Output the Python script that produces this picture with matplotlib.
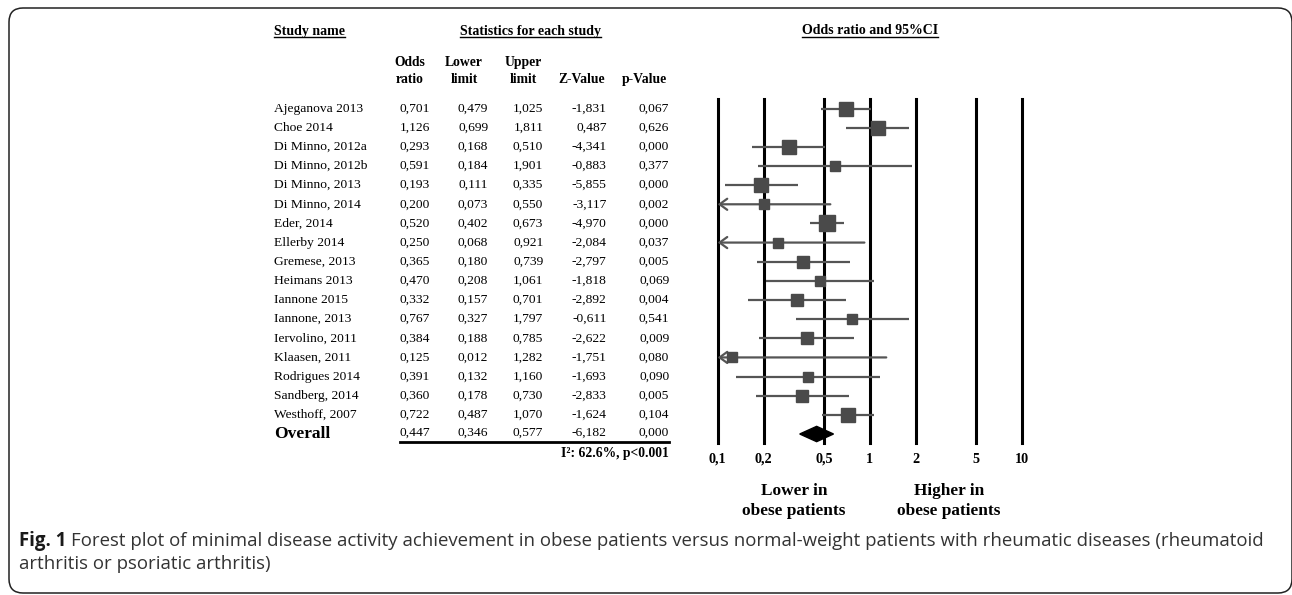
import numpy as np
import matplotlib
matplotlib.use("Agg")
import matplotlib.pyplot as plt
import matplotlib.transforms as mtransforms
from matplotlib.lines import Line2D
from matplotlib.patches import FancyBboxPatch

W, H = 1292, 595

studies = ["Ajeganova 2013", "Choe 2014", "Di Minno, 2012a", "Di Minno, 2012b",
           "Di Minno, 2013", "Di Minno, 2014", "Eder, 2014", "Ellerby 2014",
           "Gremese, 2013", "Heimans 2013", "Iannone 2015", "Iannone, 2013",
           "Iervolino, 2011", "Klaasen, 2011", "Rodrigues 2014", "Sandberg, 2014",
           "Westhoff, 2007"]
odds = [0.701, 1.126, 0.293, 0.591, 0.193, 0.200, 0.520, 0.250, 0.365, 0.470,
        0.332, 0.767, 0.384, 0.125, 0.391, 0.360, 0.722]
lower = [0.479, 0.699, 0.168, 0.184, 0.111, 0.073, 0.402, 0.068, 0.180, 0.208,
         0.157, 0.327, 0.188, 0.012, 0.132, 0.178, 0.487]
upper = [1.025, 1.811, 0.510, 1.901, 0.335, 0.550, 0.673, 0.921, 0.739, 1.061,
         0.701, 1.797, 0.785, 1.282, 1.160, 0.730, 1.070]
z_value = [-1.831, 0.487, -4.341, -0.883, -5.855, -3.117, -4.970, -2.084, -2.797,
           -1.818, -2.892, -0.611, -2.622, -1.751, -1.693, -2.833, -1.624]
p_value = [0.067, 0.626, 0.000, 0.377, 0.000, 0.002, 0.000, 0.037, 0.005, 0.069,
           0.004, 0.541, 0.009, 0.080, 0.090, 0.005, 0.104]
# relative study weights (%)
weights = [8.3, 8.3, 6.9, 3.8, 7.2, 4.1, 9.5, 3.5, 5.9, 4.6, 5.6, 4.6, 5.2, 3.8,
           4.1, 5.6, 8.8]
overall = [0.447, 0.346, 0.577, -6.182, 0.000]
heterogeneity = "I²: 62.6%, p<0.001"
xticks = [0.1, 0.2, 0.5, 1, 2, 5, 10]
xticklabels = ["0,1", "0,2", "0,5", "1", "2", "5", "10"]


def fmt(v):
    return f"{v:.3f}".replace(".", ",")


def fx(px):
    return px / W


def fy(py):
    return 1 - py / H


SERIF = "Liberation Serif"
plt.rcParams["font.family"] = SERIF

fig = plt.figure(figsize=(W / 100, H / 100), dpi=100)

# forest plot axes
ax = fig.add_axes([fx(717.7), fy(443), (1022 - 717.7) / W, (443 - 99) / H])
ax.set_xscale("log")
ax.set_xlim(0.1, 10)
n = len(studies)
ax.set_ylim(n + 0.47, -0.5)
for s in ax.spines.values():
    s.set_visible(False)
ax.set_yticks([])
ax.minorticks_off()
ax.set_xticks(xticks)
ax.set_xticklabels(xticklabels, fontweight="bold", fontsize=10.2)
ax.tick_params(axis="x", length=0, pad=7)
ax.patch.set_alpha(0)

for xv in xticks:
    ax.axvline(xv, color="black", lw=2.2, clip_on=False, zorder=1)

rows = np.arange(n)
for i in range(n):
    if lower[i] < 0.1:
        ax.annotate("", xy=(0.1, rows[i]), xytext=(upper[i], rows[i]),
                    arrowprops=dict(arrowstyle="->,head_length=0.55,head_width=0.4",
                                    color="#555555", lw=1.6, shrinkA=0, shrinkB=0),
                    annotation_clip=False, zorder=2)
    else:
        ax.plot([lower[i], upper[i]], [rows[i], rows[i]], color="#555555", lw=1.6,
                solid_capstyle="butt", zorder=2)
    ax.plot(odds[i], rows[i], marker="s", ms=3.57 * np.sqrt(weights[i]),
            color="#4a4a4a", mec="#4a4a4a", zorder=3)

# overall diamond
ov, lo, hi = overall[0], overall[1], overall[2]
h = 0.4
ax.fill([lo, ov, hi, ov], [n, n - h, n, n + h], color="black", zorder=4)

# table text
trans = mtransforms.blended_transform_factory(fig.transFigure, ax.transData)
col_right = [430, 488.3, 543.3, 606.7, 669.3]
columns = [odds, lower, upper, z_value, p_value]
for i in range(n):
    fig.text(fx(274), rows[i], studies[i], transform=trans, fontsize=9.7,
             va="center", ha="left")
    for c, vals in enumerate(columns):
        fig.text(fx(col_right[c]), rows[i], fmt(vals[i]), transform=trans,
                 fontsize=9.7, va="center", ha="right")

fig.text(fx(274), n, "Overall", transform=trans, fontsize=12.5, fontweight="bold",
         va="center", ha="left")
for c, v in enumerate(overall):
    fig.text(fx(col_right[c]), n - 0.05, fmt(v), transform=trans, fontsize=9.7,
             va="center", ha="right")
fig.add_artist(Line2D([fx(400), fx(669.3)], [fy(441.5), fy(441.5)], color="black",
                      lw=2.0, transform=fig.transFigure))
fig.text(fx(669.3), fy(453), heterogeneity, fontsize=9.8, fontweight="bold",
         va="center", ha="right")

# headers
header_top = ["Odds", "Lower", "Upper", "", ""]
header_bot = ["ratio", "limit", "limit", "Z-Value", "p-Value"]
col_center = [410, 464, 523, 582, 644]
for c in range(5):
    fig.text(fx(col_center[c]), fy(62.5), header_top[c], fontsize=9.8,
             fontweight="bold", ha="center", va="center")
    fig.text(fx(col_center[c]), fy(79.5), header_bot[c], fontsize=9.8,
             fontweight="bold", ha="center", va="center")

t_study = fig.text(fx(274), fy(31), "Study name", fontsize=10, fontweight="bold",
                   ha="left", va="center")
t_stats = fig.text(fx(530), fy(31), "Statistics for each study", fontsize=10,
                   fontweight="bold", ha="center", va="center")
t_or = fig.text(fx(870), fy(31), "Odds ratio and 95%CI", fontsize=10,
                fontweight="bold", ha="center", va="center")

for x, txt in [(794, "Lower in\nobese patients"), (949, "Higher in\nobese patients")]:
    fig.text(fx(x), fy(501), txt, fontsize=12.4, fontweight="bold",
             ha="center", va="center", linespacing=1.3)

# caption
cap1 = ("Forest plot of minimal disease activity achievement in obese patients versus "
        "normal-weight patients with rheumatic diseases (rheumatoid")
cap2 = "arthritis or psoriatic arthritis)"
CAP = "Open Sans"
CAP_SIZE = 13.4
t_fig = fig.text(fx(19), fy(541), "Fig. 1", fontsize=CAP_SIZE, fontweight="bold",
                 family=CAP, color="#1a1a1a", ha="left", va="center")
fig.text(fx(19), fy(564), cap2, fontsize=CAP_SIZE, family=CAP, color="#333333",
         ha="left", va="center")

fig.canvas.draw()
r = fig.canvas.get_renderer()
bb = t_fig.get_window_extent(r)
fig.text(bb.x1 / W + fx(5), fy(541), cap1, fontsize=CAP_SIZE, family=CAP,
         color="#333333", ha="left", va="center")

for t in [t_study, t_stats, t_or]:
    b = t.get_window_extent(r)
    fig.add_artist(Line2D([b.x0, b.x1], [b.y0 + 1, b.y0 + 1], color="black", lw=1.0,
                          transform=mtransforms.IdentityTransform()))

# rounded frame
frame = FancyBboxPatch((9, 2), 1283, 585, boxstyle="round,pad=0,rounding_size=14",
                       transform=mtransforms.IdentityTransform(), fill=False,
                       ec="#222222", lw=1.1)
fig.add_artist(frame)

fig.savefig("out.png", dpi=100)
